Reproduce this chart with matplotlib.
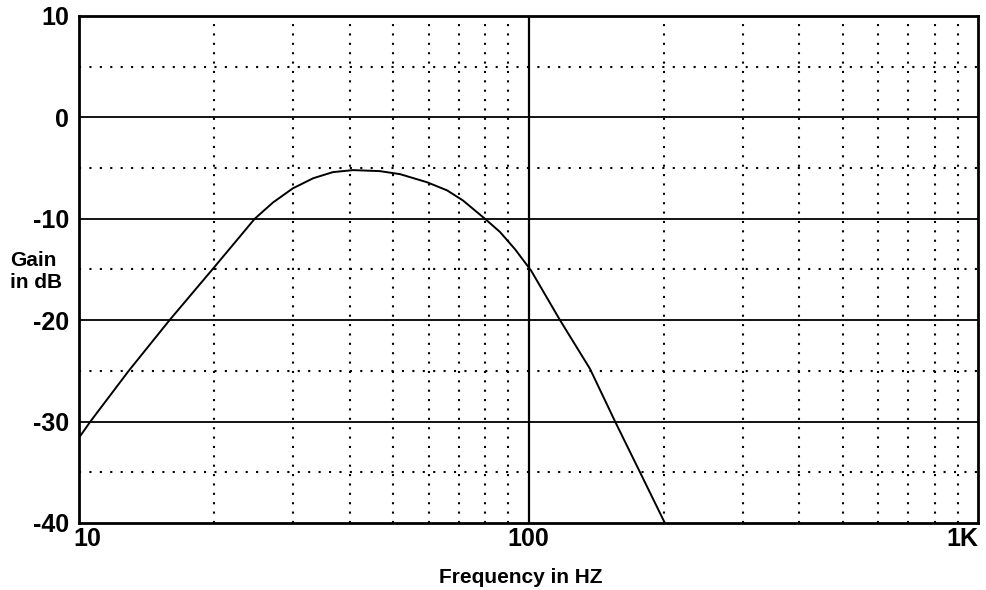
import matplotlib
matplotlib.use("Agg")
import matplotlib.pyplot as plt
import matplotlib.transforms as mtransforms

plt.rcParams['font.family'] = ['Liberation Sans', 'DejaVu Sans']

# Response curve
freq = [10.0, 10.6, 12.9, 15.9, 19.8, 24.6, 27.0, 29.9, 33.2, 36.7, 40.7,
        46.7, 51.8, 59.5, 65.9, 71.5, 80.0, 86.4, 93.3, 101.3, 117.5,
        137.0, 155.8, 177.0, 201.0]
gain = [-31.6, -30.0, -25.0, -20.0, -15.0, -10.0, -8.4, -7.0, -6.0, -5.4, -5.2,
        -5.3, -5.6, -6.4, -7.2, -8.2, -10.0, -11.3, -13.0, -15.1, -20.0,
        -24.8, -30.0, -35.0, -40.0]

ytick_vals = [10, 0, -10, -20, -30, -40]
ytick_labels = ["10", "0", "-10", "-20", "-30", "-40"]
half_lines = [5, -5, -15, -25, -35]
xtick_vals = [10, 100, 1000]
xtick_labels = ["10", "100", "1K"]
minor_x = [20, 30, 40, 50, 60, 70, 80, 90, 200, 300, 400, 500, 600, 700, 800, 900]

fig = plt.figure(figsize=(9.87, 5.9), dpi=100)
ax = fig.add_axes([0.080, 0.1136, 0.911, 0.8593])
ax.set_xscale('log')
ax.set_xlim(10, 1000)
ax.set_ylim(-40, 10)

# grid
for y in ytick_vals[1:-1]:
    ax.axhline(y, color='black', lw=1.3, zorder=1)
for y in half_lines:
    ax.axhline(y, color='black', lw=1.5, ls=(0, (1, 4)), zorder=1)
for x in minor_x:
    ax.axvline(x, color='black', lw=1.5, ls=(0, (1, 3.5)), zorder=1)
ax.axvline(100, color='black', lw=1.6, zorder=1)

ax.plot(freq, gain, color='black', lw=1.4, zorder=3)

for s in ax.spines.values():
    s.set_linewidth(2.0)
    s.set_color('black')

ax.set_yticks(ytick_vals)
ax.set_yticklabels(ytick_labels, fontsize=18, fontweight='bold')
ax.set_xticks(xtick_vals)
ax.set_xticklabels(xtick_labels, fontsize=18, fontweight='bold')
ax.minorticks_off()
ax.tick_params(axis='both', length=0)
ax.tick_params(axis='y', pad=7)
ax.tick_params(axis='x', pad=3)
xl = ax.get_xticklabels()
xl[0].set_ha('left')
xl[0].set_transform(xl[0].get_transform() +
                    mtransforms.ScaledTranslation(-0.06, 0, fig.dpi_scale_trans))
xl[-1].set_ha('right')

fig.text(0.010, 0.540, "Gain\nin dB", fontsize=15, fontweight='bold',
         ha='left', va='center', linespacing=1.15)
fig.text(0.528, 0.022, "Frequency in HZ", fontsize=15, fontweight='bold',
         ha='center', va='center')

fig.savefig("out.png", dpi=100)
